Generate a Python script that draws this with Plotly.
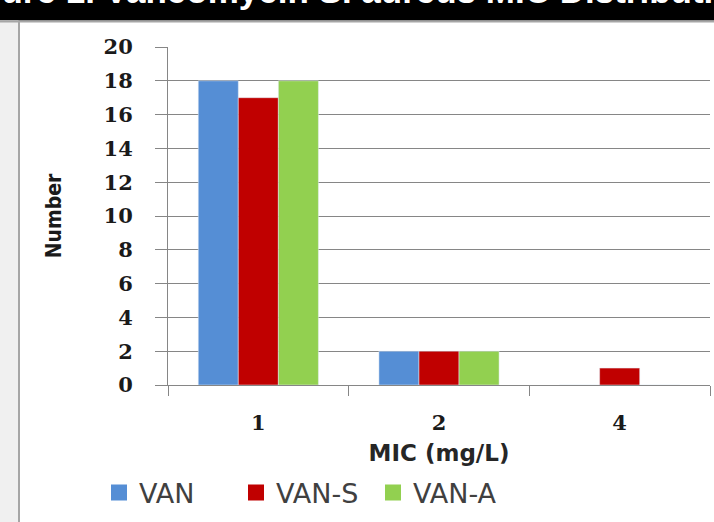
import plotly.graph_objects as go

categories = ["1", "2", "4"]
series_names = ["VAN", "VAN-S", "VAN-A"]
van = [18, 2, 0]
van_s = [17, 2, 1]
van_a = [18, 2, 0]
y_ticks = [0, 2, 4, 6, 8, 10, 12, 14, 16, 18, 20]
colors = ["#558ED5", "#C00000", "#92D050"]

W, H = 714, 522
L, R, T, B = 168, 4, 47, 137
PW, PH = W - L - R, H - T - B

def px_x(px):
    return (px - L) / PW

def px_y(py):
    return (H - B - py) / PH

fig = go.Figure()
for name, vals, col in zip(series_names, [van, van_s, van_a], colors):
    fig.add_trace(go.Bar(name=name, x=categories, y=vals, marker_color=col,
                         showlegend=False, legendgroup=name))
# legend entries with larger square swatches
for name, col in zip(series_names, colors):
    fig.add_trace(go.Scatter(name=name, x=[None], y=[None], mode="markers",
                             marker=dict(symbol="square", size=16, color=col),
                             legendgroup=name, showlegend=True, hoverinfo="skip"))

tick_font = dict(family="DejaVu Serif", size=21, color="#1a1a1a", weight="bold")

fig.update_layout(
    width=W, height=H,
    margin=dict(l=L, r=R, t=T, b=B),
    paper_bgcolor="white", plot_bgcolor="white",
    barmode="group", bargap=0.335, bargroupgap=0,
    showlegend=True,
    legend=dict(orientation="h", x=px_x(99), y=px_y(493), xanchor="left", yanchor="middle",
                font=dict(family="DejaVu Sans", size=27, color="#404040"),
                entrywidth=92, entrywidthmode="pixels", bgcolor="rgba(0,0,0,0)"),
    xaxis=dict(type="category", showline=True, linecolor="#868686", linewidth=1,
               ticks="outside", ticklen=10, tickcolor="#868686", tickson="boundaries",
               tickfont=tick_font, ticklabelstandoff=19, showgrid=False,
               title=dict(text="MIC (mg/L)", standoff=10,
                          font=dict(family="DejaVu Sans", size=23, color="#262626", weight="bold"))),
    yaxis=dict(range=[0, 20], tickvals=y_ticks, showline=True, linecolor="#868686", linewidth=1,
               ticks="outside", ticklen=12, tickcolor="#868686",
               gridcolor="#868686", gridwidth=1, zeroline=False,
               tickfont=tick_font, ticklabelstandoff=18,
               title=dict(text="Number", standoff=36,
                          font=dict(family="DejaVu Sans Condensed", size=21, color="#1a1a1a", weight="bold"))),
    shapes=[
        dict(type="rect", xref="paper", yref="paper", x0=px_x(-5), x1=px_x(720),
             y0=px_y(20.5), y1=px_y(-5), fillcolor="black", line_width=0, layer="above"),
        dict(type="rect", xref="paper", yref="paper", x0=px_x(-5), x1=px_x(18.5),
             y0=px_y(527), y1=px_y(20.5), fillcolor="#f0f0f0", line_width=0, layer="above"),
        dict(type="line", xref="paper", yref="paper", x0=px_x(19), x1=px_x(19),
             y0=px_y(527), y1=px_y(21), line=dict(color="#a6a6a6", width=2), layer="above"),
        dict(type="line", xref="paper", yref="paper", x0=px_x(0), x1=px_x(720),
             y0=px_y(21.5), y1=px_y(21.5), line=dict(color="#a6a6a6", width=2), layer="above"),
    ],
    annotations=[
        dict(text="Figure 1. Vancomycin S. aureus MIC Distribution", xref="paper", yref="paper",
             x=px_x(-53), y=px_y(12), xanchor="left", yanchor="bottom", showarrow=False,
             font=dict(family="Liberation Sans", size=35, color="white", weight="bold")),
    ],
)

fig.write_html(
    "out.html",
    config={"displayModeBar": False},
    post_script="document.body.style.margin='0';document.body.style.overflow='hidden';",
)
